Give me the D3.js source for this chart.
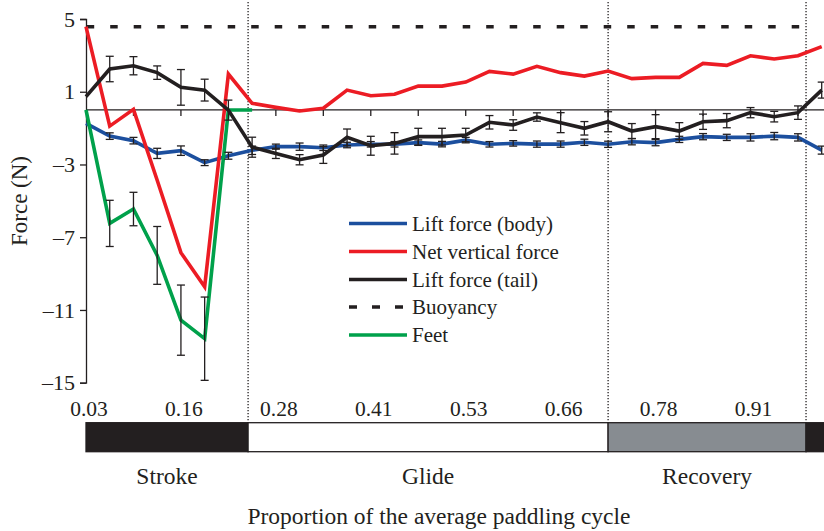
<!DOCTYPE html>
<html><head><meta charset="utf-8">
<script src="https://cdn.jsdelivr.net/npm/d3@7"></script>
<style>
html,body{margin:0;padding:0;background:#fff;}
svg{display:block;font-family:"Liberation Serif","Times New Roman",serif;}
</style></head>
<body>
<svg id="chart" width="824" height="531"></svg>
<script>
// ---- data (index i = sample along the cycle, 32 samples) ----
const liftBody = [-0.74,-1.44,-1.69,-2.39,-2.24,-2.90,-2.52,-2.22,-2.02,-2.02,-2.08,-1.93,-1.89,-1.89,-1.80,-1.88,-1.66,-1.89,-1.84,-1.88,-1.88,-1.78,-1.89,-1.75,-1.80,-1.62,-1.47,-1.51,-1.51,-1.44,-1.51,-2.21];
const liftBodyErr = [0,0.18,0.18,0.28,0.26,0.16,0.19,0.23,0.14,0.20,0.15,0.15,0.15,0.15,0.15,0.15,0.15,0.15,0.15,0.17,0.17,0.17,0.17,0.17,0.17,0.17,0.17,0.17,0.20,0.20,0.20,0.22];
const netVertical = [4.58,-0.89,0.03,-3.87,-7.85,-9.72,1.97,0.36,0.14,-0.06,0.09,1.09,0.78,0.86,1.31,1.31,1.53,2.12,1.97,2.40,2.05,1.86,2.14,1.72,1.79,1.79,2.56,2.45,2.98,2.80,2.98,3.48];
const liftTail = [0.73,2.25,2.43,2.05,1.24,1.09,-0.01,-2.05,-2.39,-2.74,-2.48,-1.51,-1.97,-1.84,-1.47,-1.47,-1.38,-0.68,-0.83,-0.39,-0.70,-1.01,-0.65,-1.16,-0.92,-1.16,-0.65,-0.59,-0.15,-0.37,-0.15,1.09];
const liftTailErr = [0,0.70,0.50,0.37,0.98,0.60,0.55,0.55,0.28,0.28,0.46,0.46,0.52,0.59,0.46,0.46,0.37,0.37,0.29,0.23,0.55,0.37,0.55,0.41,0.66,0.46,0.42,0.39,0.28,0.29,0.37,0.44];
const feet = [0,-6.24,-5.45,-8.00,-11.56,-12.58,0,0];
const feetErr = [0,1.27,0.92,1.59,1.93,2.29,0,0];
const buoyancy = 4.58;
const yTicks = [-15,-11,-7,-3,1,5];
const xTickIdx = [0,4,8,12,16,20,24,28];
const xTickLabels = ["0.03","0.16","0.28","0.41","0.53","0.66","0.78","0.91"];
const phaseNames = ["Stroke","Glide","Recovery",""];
const phaseStarts = [0,6.83,22,30.34];
const phaseEnds = [6.83,22,30.34,31.95];
const phaseColors = ["#231f20","#ffffff","#878c91","#231f20"];

const C = {blue:"#1c4f9e", red:"#ec1c24", black:"#231f20", green:"#00a14b"};

const svg = d3.select("#chart");
const x = d3.scaleLinear().domain([0,31]).range([86,821.7]);
const y = d3.scaleLinear().domain([-15,5]).range([382.7,19]);

// phase dotted lines
[6.83,22,30.34].forEach(v=>{
  svg.append("line").attr("x1",x(v)).attr("x2",x(v)).attr("y1",2).attr("y2",423)
    .attr("stroke","#231f20").attr("stroke-width",1.3).attr("stroke-dasharray","1.3,1.7");
});

// y axis
const yAxis = d3.axisLeft(y).tickValues(yTicks).tickSize(6).tickPadding(5)
  .tickFormat(d=> d<0 ? "\u2013"+Math.abs(d) : String(d));
const ga = svg.append("g").attr("transform",`translate(${x(0)},0)`).call(yAxis);
ga.select(".domain").attr("stroke","#231f20").attr("stroke-width",1.3);
ga.selectAll(".tick line").attr("stroke","#231f20").attr("stroke-width",1.3);
ga.selectAll(".tick text").attr("font-size",22).attr("fill","#231f20")
  .attr("font-family","Liberation Serif, Times New Roman, serif");

// zero line with ticks
svg.append("line").attr("x1",x(0)).attr("x2",824).attr("y1",y(0)).attr("y2",y(0))
  .attr("stroke","#231f20").attr("stroke-width",1.3);
svg.selectAll(".zt").data(d3.range(2,31,2)).join("line")
  .attr("x1",d=>x(d)).attr("x2",d=>x(d)).attr("y1",y(0)).attr("y2",y(0)+6)
  .attr("stroke","#231f20").attr("stroke-width",1.3);

// x tick labels
svg.selectAll(".xl").data(xTickIdx).join("text")
  .attr("x",d=>x(d)+3).attr("y",416).attr("text-anchor","middle")
  .attr("font-size",21.5).attr("fill","#231f20").text((d,i)=>xTickLabels[i]);

// buoyancy
svg.append("line").attr("x1",x(0)).attr("x2",x(30.34)).attr("y1",y(buoyancy)).attr("y2",y(buoyancy))
  .attr("stroke","#231f20").attr("stroke-width",3.5).attr("stroke-dasharray","7.5,16").attr("stroke-dashoffset",-0.7);

const line = d3.line().x(d=>x(d[0])).y(d=>y(d[1]));
function drawLine(vals,color){
  svg.append("path").datum(vals.map((v,i)=>[i,v])).attr("d",line)
    .attr("fill","none").attr("stroke",color).attr("stroke-width",3.6)
    .attr("stroke-linejoin","miter").attr("stroke-miterlimit",3);
}
drawLine(liftBody,C.blue);
drawLine(netVertical,C.red);
drawLine(feet,C.green);
drawLine(liftTail,C.black);

function drawErr(vals,errs){
  vals.forEach((v,i)=>{
    const e = errs[i]; if(!e) return;
    const g = svg.append("g").attr("stroke","#231f20").attr("stroke-width",1.3);
    g.append("line").attr("x1",x(i)).attr("x2",x(i)).attr("y1",y(v+e)).attr("y2",y(v-e));
    g.append("line").attr("x1",x(i)-4).attr("x2",x(i)+4).attr("y1",y(v+e)).attr("y2",y(v+e));
    g.append("line").attr("x1",x(i)-4).attr("x2",x(i)+4).attr("y1",y(v-e)).attr("y2",y(v-e));
  });
}
drawErr(liftBody,liftBodyErr);
drawErr(liftTail,liftTailErr);
drawErr(feet,feetErr);

// phase bar
const barTop=422.7, barH=29;
phaseStarts.forEach((s,i)=>{
  svg.append("rect").attr("x",x(s)).attr("y",barTop).attr("width",Math.min(x(phaseEnds[i]),824)-x(s)).attr("height",barH)
    .attr("fill",phaseColors[i]).attr("stroke","#231f20").attr("stroke-width",1.3);
  if(phaseNames[i]) svg.append("text").attr("x",(x(s)+x(phaseEnds[i]))/2).attr("y",484)
    .attr("text-anchor","middle").attr("font-size",23.5).attr("fill","#231f20").text(phaseNames[i]);
});
svg.append("text").attr("x",439).attr("y",524).attr("text-anchor","middle")
  .attr("font-size",23.5).attr("fill","#231f20").text("Proportion of the average paddling cycle");
svg.append("text").attr("transform","translate(27,201) rotate(-90)").attr("text-anchor","middle")
  .attr("font-size",23).attr("fill","#231f20").text("Force (N)");

// legend
const legend = [
  {name:"Lift force (body)",color:C.blue,dash:null},
  {name:"Net vertical force",color:C.red,dash:null},
  {name:"Lift force (tail)",color:C.black,dash:null},
  {name:"Buoyancy",color:C.black,dash:"8,15"},
  {name:"Feet",color:C.green,dash:null}
];
const ly = [223.5,251.5,279.5,307,335];
legend.forEach((d,i)=>{
  svg.append("line").attr("x1",349).attr("x2",407).attr("y1",ly[i]).attr("y2",ly[i])
    .attr("stroke",d.color).attr("stroke-width",3.6).attr("stroke-dasharray",d.dash);
  svg.append("text").attr("x",412).attr("y",ly[i]+7).attr("font-size",21).attr("fill","#231f20").text(d.name);
});
</script>
</body></html>
